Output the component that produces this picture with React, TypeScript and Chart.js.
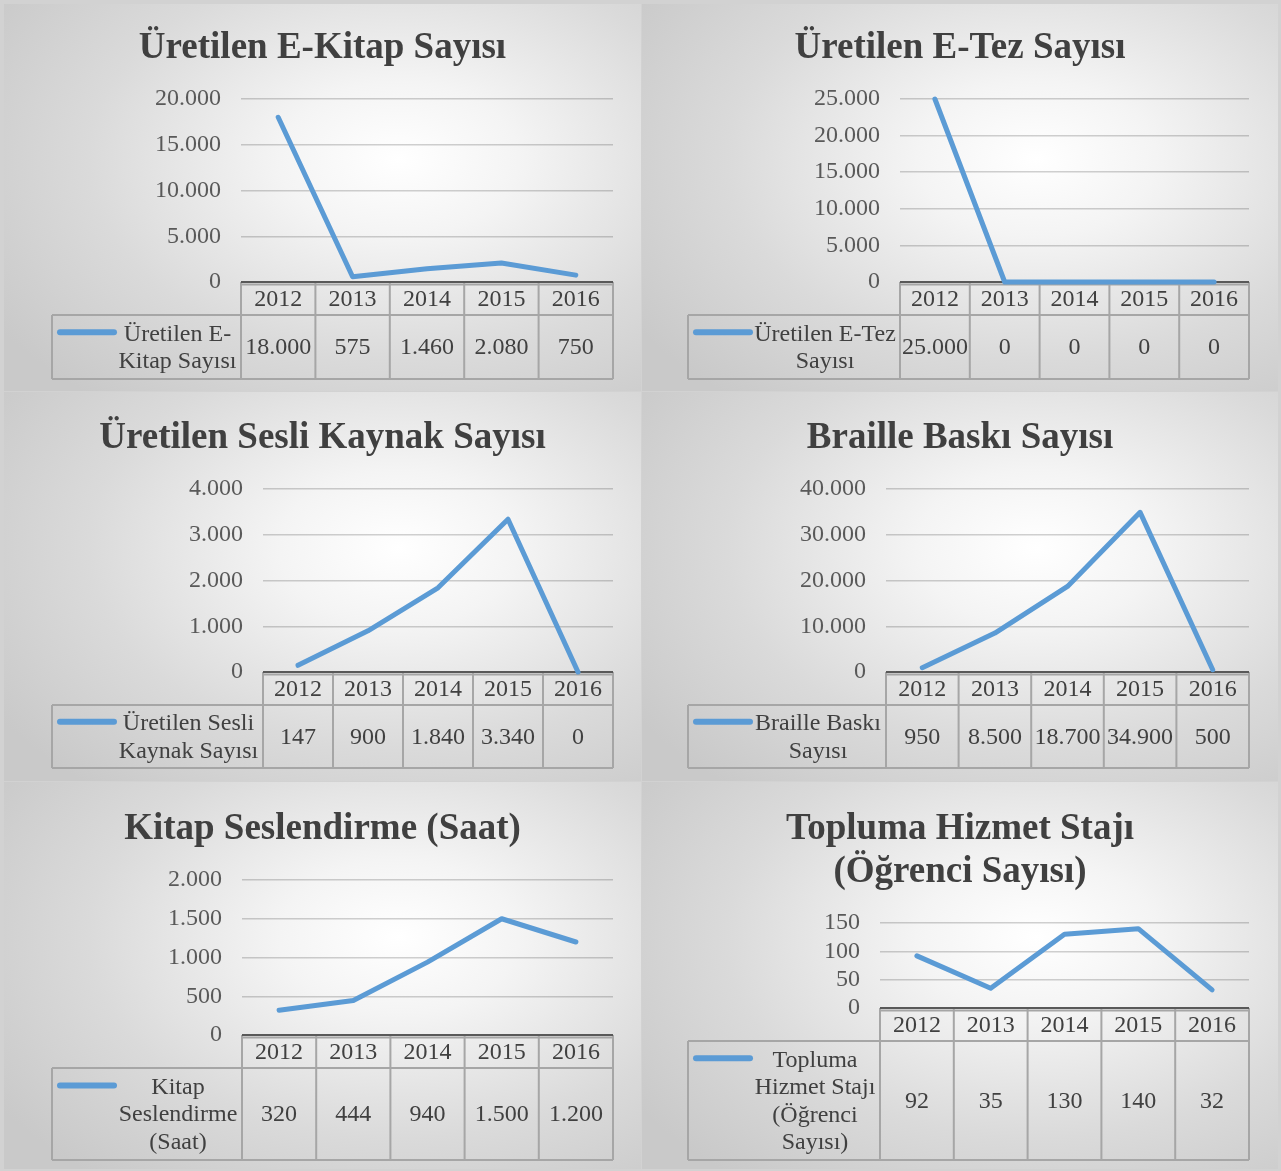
import React, { useEffect, useRef } from "react";
import { Chart, registerables } from "chart.js";

Chart.register(...registerables);

const years = ["2012", "2013", "2014", "2015", "2016"];
const eKitapValues = [18000, 575, 1460, 2080, 750];
const eTezValues = [25000, 0, 0, 0, 0];
const sesliKaynakValues = [147, 900, 1840, 3340, 0];
const brailleValues = [950, 8500, 18700, 34900, 500];
const seslendirmeValues = [320, 444, 940, 1500, 1200];
const stajValues = [92, 35, 130, 140, 32];

const eKitapTitle = ["Üretilen E-Kitap Sayısı"];
const eTezTitle = ["Üretilen E-Tez Sayısı"];
const sesliKaynakTitle = ["Üretilen Sesli Kaynak Sayısı"];
const brailleTitle = ["Braille Baskı Sayısı"];
const seslendirmeTitle = ["Kitap Seslendirme (Saat)"];
const stajTitle = ["Topluma Hizmet Stajı", "(Öğrenci Sayısı)"];

const eKitapLegend = ["Üretilen E-", "Kitap Sayısı"];
const eTezLegend = ["Üretilen E-Tez", "Sayısı"];
const sesliKaynakLegend = ["Üretilen Sesli", "Kaynak Sayısı"];
const brailleLegend = ["Braille Baskı", "Sayısı"];
const seslendirmeLegend = ["Kitap", "Seslendirme", "(Saat)"];
const stajLegend = ["Topluma", "Hizmet Stajı", "(Öğrenci", "Sayısı)"];

const eKitapAxis = { max: 20000, step: 5000 };
const eTezAxis = { max: 25000, step: 5000 };
const sesliKaynakAxis = { max: 4000, step: 1000 };
const brailleAxis = { max: 40000, step: 10000 };
const seslendirmeAxis = { max: 2000, step: 500 };
const stajAxis = { max: 150, step: 50 };

const FONT = "'Liberation Serif', 'Times New Roman', serif";
const LINE_COLOR = "#5b9bd5";
const TEXT_COLOR = "#404040";

const fmt = (v: number) => String(v).replace(/\B(?=(\d{3})+(?!\d))/g, ".");

type Layout = {
  x: number; y: number; w: number; h: number;
  left: number; right: number; top: number; bottom: number;
  header: number; tableBottom: number; legendLeft: number;
  titleY: number[];
};

type PanelSpec = {
  title: string[];
  legend: string[];
  values: number[];
  axis: { max: number; step: number };
  layout: Layout;
};

const panels: PanelSpec[] = [
  {
    title: eKitapTitle, legend: eKitapLegend, values: eKitapValues, axis: eKitapAxis,
    layout: { x: 4, y: 4, w: 637, h: 387, left: 237, right: 609, top: 95, bottom: 278, header: 311, tableBottom: 375, legendLeft: 48, titleY: [44] },
  },
  {
    title: eTezTitle, legend: eTezLegend, values: eTezValues, axis: eTezAxis,
    layout: { x: 642, y: 4, w: 636, h: 387, left: 258, right: 607, top: 95, bottom: 278, header: 311, tableBottom: 375, legendLeft: 46, titleY: [44] },
  },
  {
    title: sesliKaynakTitle, legend: sesliKaynakLegend, values: sesliKaynakValues, axis: sesliKaynakAxis,
    layout: { x: 4, y: 392, w: 637, h: 389, left: 259, right: 609, top: 97, bottom: 280, header: 313, tableBottom: 376, legendLeft: 48, titleY: [46] },
  },
  {
    title: brailleTitle, legend: brailleLegend, values: brailleValues, axis: brailleAxis,
    layout: { x: 642, y: 392, w: 636, h: 389, left: 244, right: 607, top: 97, bottom: 280, header: 313, tableBottom: 376, legendLeft: 46, titleY: [46] },
  },
  {
    title: seslendirmeTitle, legend: seslendirmeLegend, values: seslendirmeValues, axis: seslendirmeAxis,
    layout: { x: 4, y: 782, w: 637, h: 387, left: 238, right: 609, top: 98, bottom: 253, header: 286, tableBottom: 378, legendLeft: 48, titleY: [47] },
  },
  {
    title: stajTitle, legend: stajLegend, values: stajValues, axis: stajAxis,
    layout: { x: 642, y: 782, w: 636, h: 387, left: 238, right: 607, top: 141, bottom: 226, header: 259, tableBottom: 378, legendLeft: 46, titleY: [47, 90] },
  },
];

const tablePlugin = {
  id: "dataTable",
  beforeDatasetsDraw(chart: any, _args: any, opts: any) {
    const { ctx, chartArea, scales } = chart;
    const xs = scales.x;
    const labels: string[] = chart.data.labels;
    const values: number[] = chart.data.datasets[0].data;
    const n = labels.length;
    const colW = (chartArea.right - chartArea.left) / n;
    const top = chartArea.bottom;
    const hb = opts.header;
    const tb = opts.tableBottom;
    const ll = opts.legendLeft;
    const right = chartArea.right;

    ctx.save();
    ctx.strokeStyle = "#a6a6a6";
    ctx.lineWidth = 2;
    ctx.beginPath();
    for (let i = 0; i <= n; i++) {
      const bx = i < n ? xs.getPixelForValue(i) - colW / 2 : xs.getPixelForValue(n - 1) + colW / 2;
      ctx.moveTo(bx, top);
      ctx.lineTo(bx, tb);
    }
    ctx.moveTo(chartArea.left, top + 2.5);
    ctx.lineTo(right, top + 2.5);
    ctx.moveTo(ll, hb);
    ctx.lineTo(right, hb);
    ctx.moveTo(ll, tb);
    ctx.lineTo(right, tb);
    ctx.moveTo(ll, hb);
    ctx.lineTo(ll, tb);
    ctx.stroke();

    ctx.strokeStyle = "#595959";
    ctx.lineWidth = 2;
    ctx.beginPath();
    ctx.moveTo(chartArea.left, top);
    ctx.lineTo(right, top);
    ctx.stroke();

    ctx.fillStyle = TEXT_COLOR;
    ctx.font = `24px ${FONT}`;
    ctx.textAlign = "center";
    ctx.textBaseline = "middle";
    for (let i = 0; i < n; i++) {
      const cx = xs.getPixelForValue(i);
      ctx.fillText(labels[i], cx, (top + hb) / 2 + 1);
      ctx.fillText(fmt(values[i]), cx, (hb + tb) / 2 + 1);
    }

    const legend: string[] = opts.legend;
    const lh = 27.5;
    const midY = (hb + tb) / 2;
    const firstY = midY - ((legend.length - 1) * lh) / 2;
    const sampleStart = ll + 8;
    const sampleEnd = ll + 62;
    ctx.strokeStyle = LINE_COLOR;
    ctx.lineWidth = 6;
    ctx.lineCap = "round";
    ctx.beginPath();
    ctx.moveTo(sampleStart, firstY - 1);
    ctx.lineTo(sampleEnd, firstY - 1);
    ctx.stroke();
    const tcx = (sampleEnd + chartArea.left) / 2;
    legend.forEach((t, i) => ctx.fillText(t, tcx, firstY + i * lh + 1));

    ctx.fillStyle = TEXT_COLOR;
    ctx.font = `bold 37px ${FONT}`;
    const titles: string[] = opts.title;
    titles.forEach((t, i) => ctx.fillText(t, chart.width / 2, opts.titleY[i]));
    ctx.restore();
  },
};

function Panel({ spec }: { spec: PanelSpec }) {
  const ref = useRef<HTMLCanvasElement | null>(null);
  useEffect(() => {
    if (!ref.current) return;
    const L = spec.layout;
    const chart = new Chart(ref.current, {
      type: "line",
      data: {
        labels: years,
        datasets: [
          {
            data: spec.values,
            borderColor: LINE_COLOR,
            borderWidth: 5,
            pointRadius: 0,
            tension: 0,
            fill: false,
            clip: false as any,
            borderCapStyle: "round",
            borderJoinStyle: "round",
          },
        ],
      },
      options: {
        responsive: false,
        animation: false,
        events: [],
        layout: { padding: { left: 0, right: L.w - L.right, top: L.top, bottom: L.h - L.bottom } },
        plugins: {
          legend: { display: false },
          tooltip: { enabled: false },
          title: { display: false },
          dataTable: {
            header: L.header,
            tableBottom: L.tableBottom,
            legendLeft: L.legendLeft,
            legend: spec.legend,
            title: spec.title,
            titleY: L.titleY,
          },
        } as any,
        scales: {
          x: { display: false, offset: true },
          y: {
            min: 0,
            max: spec.axis.max,
            ticks: {
              stepSize: spec.axis.step,
              autoSkip: false,
              callback: (v: any) => fmt(Number(v)),
              font: { family: FONT, size: 24 },
              color: "#595959",
              padding: 20,
            },
            grid: { color: "rgba(0,0,0,0.18)", lineWidth: 1.5, drawTicks: false },
            border: { display: false },
            afterFit: (s: any) => {
              s.width = L.left;
            },
          },
        },
      },
      plugins: [tablePlugin],
    });
    return () => chart.destroy();
  }, [spec]);
  const L = spec.layout;
  return (
    <div
      style={{
        position: "absolute",
        left: L.x,
        top: L.y,
        width: L.w,
        height: L.h,
        background: "radial-gradient(ellipse 75% 80% at 62% 40%, #ffffff 0%, #f4f4f4 25%, #dadada 65%, #c9c9c9 100%)",
      }}
    >
      <canvas ref={ref} width={L.w} height={L.h} style={{ width: L.w, height: L.h, display: "block" }} />
    </div>
  );
}

export default function App() {
  return (
    <div style={{ position: "absolute", left: 0, top: 0, width: 1281, height: 1171, background: "#d2d2d2", overflow: "hidden" }}>
      {panels.map((p, i) => (
        <Panel key={i} spec={p} />
      ))}
    </div>
  );
}
